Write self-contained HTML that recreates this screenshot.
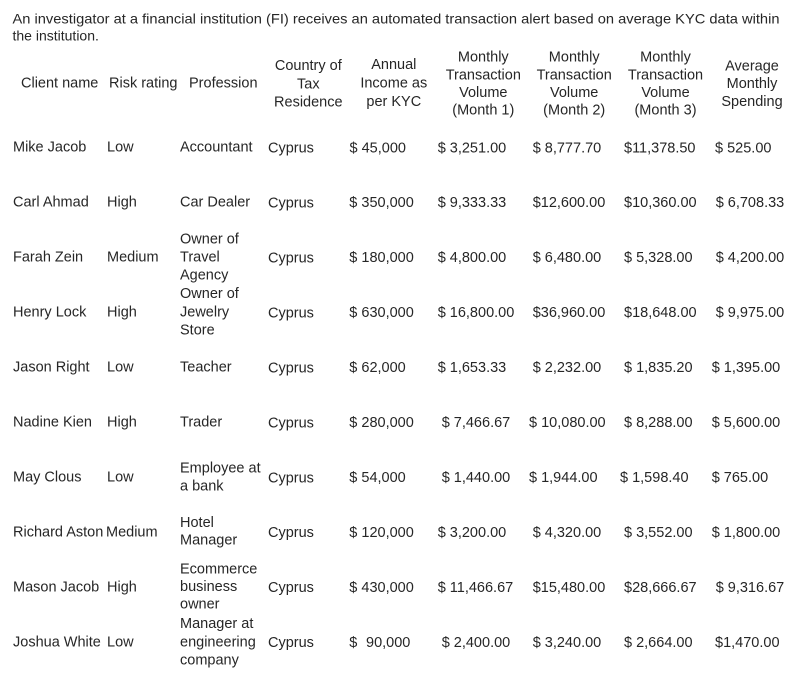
<!DOCTYPE html>
<html>
<head>
<meta charset="utf-8">
<style>
  html,body{margin:0;padding:0;background:#fff;}
  body{width:805px;height:679px;overflow:hidden;}
  svg{display:block;}
  text{font-family:"Liberation Sans",Arial,sans-serif;fill:#262626;font-size:14.5px;}
  .t{font-size:14px;}
  .c{text-anchor:middle;}
</style>
</head>
<body>
<svg width="805" height="679" viewBox="0 0 805 679" xmlns="http://www.w3.org/2000/svg">
  <defs>
    <radialGradient id="g" cx="0.5" cy="0" r="0.5">
      <stop offset="0" stop-color="#ececec"/>
      <stop offset="1" stop-color="#ffffff" stop-opacity="0"/>
    </radialGradient>
  </defs>
  <rect width="805" height="679" fill="#fff"/>
  <ellipse cx="720" cy="0" rx="150" ry="30" fill="url(#g)"/>

  <!-- Title -->
  <text class="t" x="12.5" y="23.5" textLength="767" lengthAdjust="spacingAndGlyphs">An investigator at a financial institution (FI) receives an automated transaction alert based on average KYC data within</text>
  <text class="t" x="12.5" y="40.7">the institution.</text>

  <!-- Header -->
  <text x="21" y="87.3">Client name</text>
  <text x="109" y="87.3">Risk rating</text>
  <text x="189" y="87.3">Profession</text>

  <text class="c" x="308.3" y="70">Country of</text>
  <text class="c" x="308.3" y="88.3">Tax</text>
  <text class="c" x="308.3" y="106.5">Residence</text>

  <text class="c" x="393.8" y="69">Annual</text>
  <text class="c" x="393.8" y="87.5">Income as</text>
  <text class="c" x="393.8" y="106">per KYC</text>

  <text class="c" x="483.3" y="61.7">Monthly</text>
  <text class="c" x="483.3" y="79.3">Transaction</text>
  <text class="c" x="483.3" y="97">Volume</text>
  <text class="c" x="483.3" y="114.7">(Month 1)</text>

  <text class="c" x="574.2" y="61.7">Monthly</text>
  <text class="c" x="574.2" y="79.3">Transaction</text>
  <text class="c" x="574.2" y="97">Volume</text>
  <text class="c" x="574.2" y="114.7">(Month 2)</text>

  <text class="c" x="665.5" y="61.7">Monthly</text>
  <text class="c" x="665.5" y="79.3">Transaction</text>
  <text class="c" x="665.5" y="97">Volume</text>
  <text class="c" x="665.5" y="114.7">(Month 3)</text>

  <text class="c" x="752" y="70.5">Average</text>
  <text class="c" x="752" y="88">Monthly</text>
  <text class="c" x="752" y="105.8">Spending</text>

  <!-- Row 1 -->
  <text x="13" y="151.7">Mike Jacob</text>
  <text x="107" y="151.7">Low</text>
  <text x="180" y="151.7">Accountant</text>
  <text x="268" y="152.5">Cyprus</text>
  <text x="349.5" y="152.5">$ 45,000</text>
  <text x="437.7" y="152.5">$ 3,251.00</text>
  <text x="532.7" y="152.5">$ 8,777.70</text>
  <text x="624" y="152.5">$11,378.50</text>
  <text x="715" y="152.5">$ 525.00</text>

  <!-- Row 2 -->
  <text x="13" y="206.7">Carl Ahmad</text>
  <text x="107" y="206.7">High</text>
  <text x="180" y="206.7">Car Dealer</text>
  <text x="268" y="207.3">Cyprus</text>
  <text x="349.3" y="207">$ 350,000</text>
  <text x="437.7" y="207">$ 9,333.33</text>
  <text x="532.7" y="207">$12,600.00</text>
  <text x="624" y="207">$10,360.00</text>
  <text x="715.7" y="207">$ 6,708.33</text>

  <!-- Row 3 -->
  <text x="13" y="261.7">Farah Zein</text>
  <text x="107" y="261.7">Medium</text>
  <text x="180" y="243.5">Owner of</text>
  <text x="180" y="261.7">Travel</text>
  <text x="180" y="279.3">Agency</text>
  <text x="268" y="262.3">Cyprus</text>
  <text x="349.3" y="262">$ 180,000</text>
  <text x="437.7" y="262">$ 4,800.00</text>
  <text x="532.7" y="262">$ 6,480.00</text>
  <text x="624" y="262">$ 5,328.00</text>
  <text x="715.7" y="262">$ 4,200.00</text>

  <!-- Row 4 -->
  <text x="13" y="316.7">Henry Lock</text>
  <text x="107" y="316.7">High</text>
  <text x="180" y="298">Owner of</text>
  <text x="180" y="316.7">Jewelry</text>
  <text x="180" y="334.5">Store</text>
  <text x="268" y="317.3">Cyprus</text>
  <text x="349.3" y="317">$ 630,000</text>
  <text x="437.7" y="317">$ 16,800.00</text>
  <text x="532.7" y="317">$36,960.00</text>
  <text x="624" y="317">$18,648.00</text>
  <text x="715.7" y="317">$ 9,975.00</text>

  <!-- Row 5 -->
  <text x="13" y="371.7">Jason Right</text>
  <text x="107" y="371.7">Low</text>
  <text x="180" y="371.7">Teacher</text>
  <text x="268" y="372.3">Cyprus</text>
  <text x="349.3" y="372">$ 62,000</text>
  <text x="437.7" y="372">$ 1,653.33</text>
  <text x="532.7" y="372">$ 2,232.00</text>
  <text x="624" y="372">$ 1,835.20</text>
  <text x="711.7" y="372">$ 1,395.00</text>

  <!-- Row 6 -->
  <text x="13" y="426.7">Nadine Kien</text>
  <text x="107" y="426.7">High</text>
  <text x="180" y="426.7">Trader</text>
  <text x="268" y="427.3">Cyprus</text>
  <text x="349.3" y="427">$ 280,000</text>
  <text x="441.7" y="427">$ 7,466.67</text>
  <text x="529" y="427">$ 10,080.00</text>
  <text x="624" y="427">$ 8,288.00</text>
  <text x="711.7" y="427">$ 5,600.00</text>

  <!-- Row 7 -->
  <text x="13" y="481.7">May Clous</text>
  <text x="107" y="481.7">Low</text>
  <text x="180" y="472.5">Employee at</text>
  <text x="180" y="490.3">a bank</text>
  <text x="268" y="482.3">Cyprus</text>
  <text x="349.3" y="482">$ 54,000</text>
  <text x="441.7" y="482">$ 1,440.00</text>
  <text x="529" y="482">$ 1,944.00</text>
  <text x="620" y="482">$ 1,598.40</text>
  <text x="711.7" y="482">$ 765.00</text>

  <!-- Row 8 -->
  <text x="13" y="536.5">Richard Aston</text>
  <text x="106" y="536.5">Medium</text>
  <text x="180" y="526.8">Hotel</text>
  <text x="180" y="544.5">Manager</text>
  <text x="268" y="537">Cyprus</text>
  <text x="349.3" y="537">$ 120,000</text>
  <text x="437.7" y="537">$ 3,200.00</text>
  <text x="532.7" y="537">$ 4,320.00</text>
  <text x="624" y="537">$ 3,552.00</text>
  <text x="711.7" y="537">$ 1,800.00</text>

  <!-- Row 9 -->
  <text x="13" y="591.5">Mason Jacob</text>
  <text x="107" y="591.5">High</text>
  <text x="180" y="573.3">Ecommerce</text>
  <text x="180" y="591">business</text>
  <text x="180" y="608.7">owner</text>
  <text x="268" y="592">Cyprus</text>
  <text x="349.3" y="592">$ 430,000</text>
  <text x="437.7" y="592">$ 11,466.67</text>
  <text x="532.7" y="592">$15,480.00</text>
  <text x="624" y="592">$28,666.67</text>
  <text x="715.7" y="592">$ 9,316.67</text>

  <!-- Row 10 -->
  <text x="13" y="646.3">Joshua White</text>
  <text x="107" y="646.3">Low</text>
  <text x="180" y="627.8">Manager at</text>
  <text x="180" y="646.3">engineering</text>
  <text x="180" y="664.3">company</text>
  <text x="268" y="647">Cyprus</text>
  <text x="349.3" y="647">$</text>
  <text x="366" y="647">90,000</text>
  <text x="441.7" y="647">$ 2,400.00</text>
  <text x="532.7" y="647">$ 3,240.00</text>
  <text x="624" y="647">$ 2,664.00</text>
  <text x="715" y="647">$1,470.00</text>
</svg>
</body>
</html>
